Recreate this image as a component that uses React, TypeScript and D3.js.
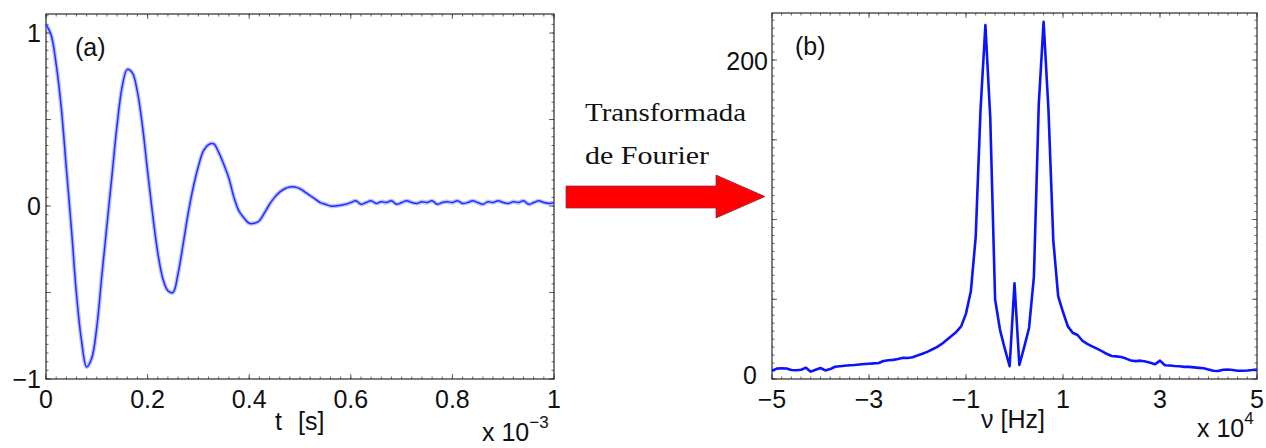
import React from "react";
import * as d3 from "d3";

// ---------- Data ----------
// (a) time signal, t in units of 1e-3 s, sampled every 0.01
const timeValues: number[] = d3.range(0, 1.0001, 0.01).map((v) => +v.toFixed(2));
const signalValues: number[] = [
  1.05, 0.99, 0.82, 0.57, 0.22, -0.13, -0.51, -0.78, -0.93, -0.88,
  -0.70, -0.40, -0.11, 0.18, 0.47, 0.69, 0.79, 0.77, 0.66, 0.46,
  0.20, -0.05, -0.27, -0.42, -0.49, -0.50, -0.39, -0.22, -0.04, 0.11,
  0.23, 0.32, 0.355, 0.36, 0.31, 0.24, 0.16, 0.05, -0.03, -0.07,
  -0.10, -0.10, -0.085, -0.04, 0.01, 0.05, 0.08, 0.10, 0.11, 0.11,
  0.10, 0.08, 0.06, 0.04, 0.02, 0.01, 0.0, 0.0, 0.005, 0.01,
  0.02, 0.03, 0.01, 0.02, 0.03, 0.015, 0.025, 0.02, 0.03, 0.01,
  0.02, 0.03, 0.02, 0.015, 0.025, 0.02, 0.03, 0.01, 0.02, 0.025,
  0.02, 0.03, 0.015, 0.02, 0.03, 0.02, 0.01, 0.025, 0.02, 0.03,
  0.02, 0.015, 0.025, 0.02, 0.03, 0.01, 0.02, 0.03, 0.02, 0.015,
  0.02,
];

// (b) spectrum, nu in units of 1e4 Hz, sampled every 0.1
const freqValues: number[] = d3.range(-5, 5.0001, 0.1).map((v) => +v.toFixed(1));
const spectrumValues: number[] = [
  5.2, 6.5, 6.7, 6.6, 5.6, 5.5, 5.8, 7.1, 4.6, 5.8,
  6.9, 5.4, 6.2, 7.7, 8.0, 8.3, 8.6, 8.8, 9.1, 9.4,
  9.6, 9.8, 10.0, 11.3, 11.8, 12.0, 12.5, 13.3, 13.2, 13.6,
  14.8, 15.8, 17.0, 18.5, 20.0, 22.0, 24.5, 27.0, 29.5, 33.0,
  41.0, 55.0, 89.0, 169, 222, 164, 50, 31, 19, 8,
  60,
  8.8, 20, 32, 64, 172, 224, 169, 87, 52, 42,
  33, 29, 27.6, 24, 22, 20.5, 19, 17.5, 15.8, 14.4,
  14.2, 13.8, 12.8, 11.6, 11.2, 11.5, 11.0, 10.2, 9.2, 11.5,
  8.6, 8.5, 8.2, 8.0, 7.6, 7.6, 7.3, 7.0, 6.7, 6.0,
  5.2, 5.0, 5.8, 6.0, 5.6, 5.2, 5.2, 5.3, 5.6, 6.0,
];

const leftXTickLabels = ["0", "0.2", "0.4", "0.6", "0.8", "1"];
const leftXTickValues = [0, 0.2, 0.4, 0.6, 0.8, 1];
const leftYTickLabels = ["\u22121", "0", "1"];
const leftYTickValues = [-1, 0, 1];
const rightXTickLabels = ["\u22125", "\u22123", "\u22121", "1", "3", "5"];
const rightXTickValues = [-5, -3, -1, 1, 3, 5];
const rightYTickLabels = ["0", "200"];
const rightYTickValues = [0, 200];

const FONT = "'Liberation Sans', Arial, Helvetica, sans-serif";
const SERIF = "'Liberation Serif', 'Times New Roman', serif";
const AXIS = "#2a2a2a";

type Lin = d3.ScaleLinear<number, number>;

function Frame({ x, y, majorX, minorX, majorY, minorY }: {
  x: Lin; y: Lin; majorX: number[]; minorX: number[]; majorY: number[]; minorY: number[];
}) {
  const [x0, x1] = x.range();
  const [y0, y1] = y.range(); // y0 bottom, y1 top
  const Lmaj = 5, Lmin = 2.5;
  const lines: JSX.Element[] = [];
  const push = (k: string, a: number, b: number, c: number, d: number) =>
    lines.push(<line key={k} x1={a} y1={b} x2={c} y2={d} />);
  minorX.forEach((v, i) => {
    const px = x(v);
    push("bx" + i, px, y0, px, y0 - Lmin);
    push("tx" + i, px, y1, px, y1 + Lmin);
  });
  majorX.forEach((v, i) => {
    const px = x(v);
    push("BX" + i, px, y0, px, y0 - Lmaj);
    push("TX" + i, px, y1, px, y1 + Lmaj);
  });
  minorY.forEach((v, i) => {
    const py = y(v);
    push("ly" + i, x0, py, x0 + Lmin, py);
    push("ry" + i, x1, py, x1 - Lmin, py);
  });
  majorY.forEach((v, i) => {
    const py = y(v);
    push("LY" + i, x0, py, x0 + Lmaj, py);
    push("RY" + i, x1, py, x1 - Lmaj, py);
  });
  return (
    <g>
      <g stroke="#555" strokeWidth={0.9}>{lines}</g>
      <rect x={x0} y={y1} width={x1 - x0} height={y0 - y1} fill="none" stroke={AXIS} strokeWidth={1.2} />
    </g>
  );
}

export default function App() {
  // scales
  const xL = d3.scaleLinear().domain([0, 1]).range([46, 554]);
  const yL = d3.scaleLinear().domain([-1, 1.11]).range([379, 14]);
  const xR = d3.scaleLinear().domain([-5, 5]).range([772, 1257]);
  const yR = d3.scaleLinear().domain([0, 229.5]).range([379, 13]);

  const sigLine = d3
    .line<number>()
    .x((_, i) => xL(timeValues[i]))
    .y((d) => yL(d))
    .curve(d3.curveCatmullRom.alpha(0.5));
  const specLine = d3
    .line<number>()
    .x((_, i) => xR(freqValues[i]))
    .y((d) => yR(d));

  const rng = (a: number, b: number, s: number) => d3.range(a, b + s / 2, s);

  return (
    <svg
      width={1266}
      height={448}
      style={{ position: "absolute", left: 0, top: 0, display: "block", background: "#fff" }}
    >
      <rect width={1266} height={448} fill="#fff" />

      {/* ---------- Panel (a) ---------- */}
      <Frame
        x={xL}
        y={yL}
        majorX={rng(0, 1, 0.2)}
        minorX={rng(0, 1, 0.02)}
        majorY={rng(-1, 1, 0.5)}
        minorY={rng(-1, 1.1, 0.05)}
      />
      <path d={sigLine(signalValues) || ""} fill="none" stroke="#5a66ff" strokeOpacity={0.4} strokeWidth={4.2} strokeLinejoin="round" />
      <path d={sigLine(signalValues) || ""} fill="none" stroke="#1f2fff" strokeWidth={1.5} strokeLinejoin="round" />
      <g fontFamily={FONT} fontSize={25} fill="#111">
        {leftXTickValues.map((v, i) => (
          <text key={"lx" + i} x={xL(v)} y={408} textAnchor="middle">{leftXTickLabels[i]}</text>
        ))}
        {leftYTickValues.map((v, i) => (
          <text key={"ly" + i} x={41} y={yL(v) + 9} textAnchor="end">{leftYTickLabels[i]}</text>
        ))}
        <text x={75} y={56} fontSize={25}>(a)</text>
        <text x={275} y={430}>t</text>
        <text x={298} y={430}>[s]</text>
        <text x={482} y={441}>
          x 10<tspan dy={-13} fontSize={17}>{"\u22123"}</tspan>
        </text>
      </g>

      {/* ---------- Arrow + caption ---------- */}
      <g fontFamily={SERIF} fontSize={25} fill="#111" style={{ whiteSpace: "pre" }}>
        <text x={585} y={121} textLength={161} lengthAdjust="spacingAndGlyphs">Transformada</text>
        <text x={585} y={164} textLength={124} lengthAdjust="spacingAndGlyphs">{"de  Fourier"}</text>
      </g>
      <path
        d="M566,186 L716,186 L716,175 L765,196.5 L716,218 L716,208 L566,208 Z"
        fill="#ff0000"
        stroke="#7a2a55"
        strokeWidth={0.7}
      />

      {/* ---------- Panel (b) ---------- */}
      <Frame
        x={xR}
        y={yR}
        majorX={rng(-5, 5, 2)}
        minorX={rng(-5, 5, 0.2)}
        majorY={rng(0, 200, 50)}
        minorY={rng(0, 225, 5)}
      />
      <path d={specLine(spectrumValues) || ""} fill="none" stroke="#0a14ff" strokeWidth={2.6} strokeLinejoin="round" />
      <g fontFamily={FONT} fontSize={25} fill="#111">
        {rightXTickValues.map((v, i) => (
          <text key={"rx" + i} x={xR(v)} y={408} textAnchor="middle">{rightXTickLabels[i]}</text>
        ))}
        {rightYTickValues.map((v, i) => (
          <text
            key={"ry" + i}
            x={v === 0 ? 757 : 768}
            y={yR(v) + (v === 0 ? 5 : 10)}
            textAnchor="end"
          >
            {rightYTickLabels[i]}
          </text>
        ))}
        <text x={795} y={55}>(b)</text>
        <text x={1013} y={428} textAnchor="middle">{"\u03bd [Hz]"}</text>
        <text x={1197} y={437}>
          x 10<tspan dy={-13} fontSize={17}>4</tspan>
        </text>
      </g>
    </svg>
  );
}
